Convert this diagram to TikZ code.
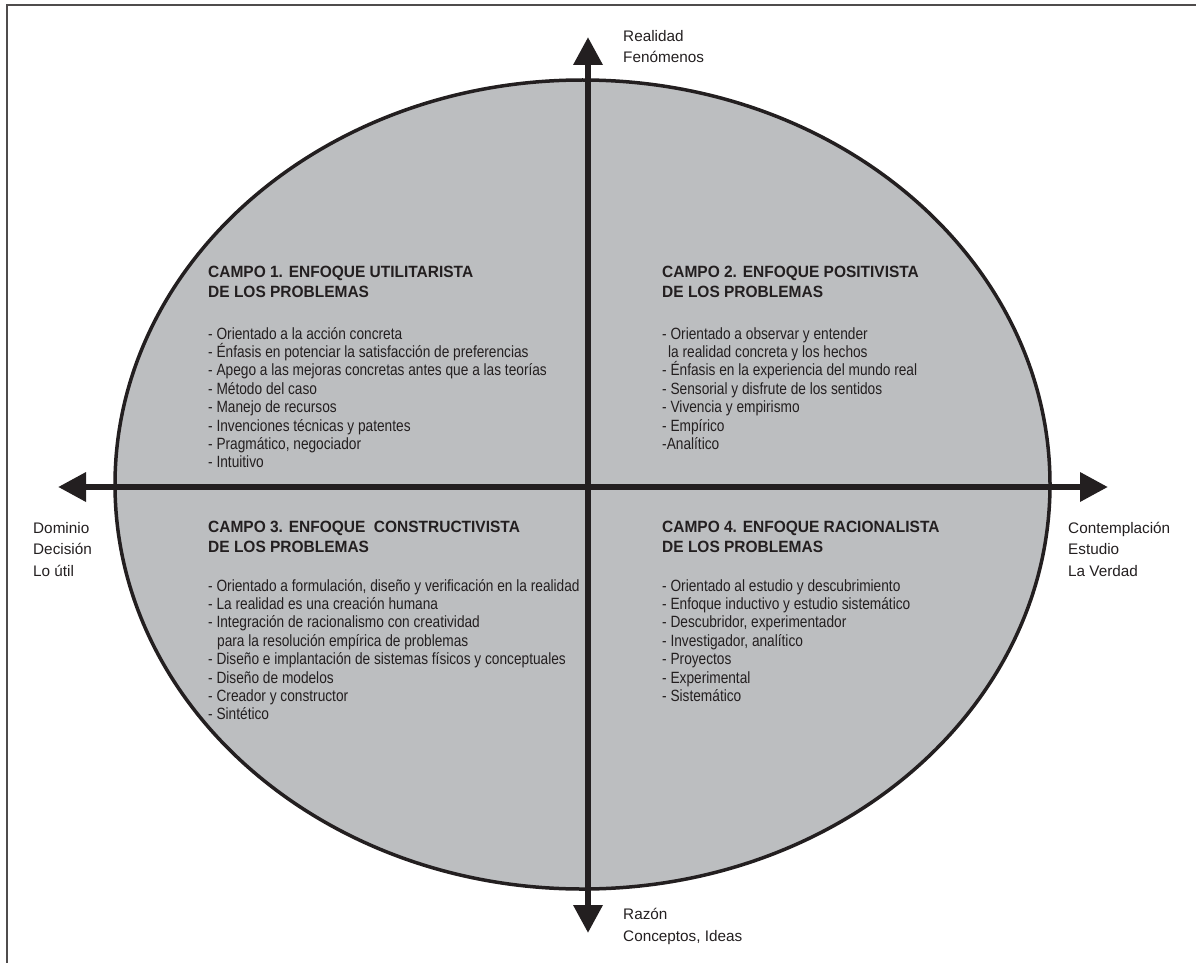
\documentclass[tikz,border=0pt]{standalone}
\usepackage{fontspec}
\setmainfont{Liberation Sans}[FakeStretch=0.84]
\newfontfamily\anchafont{Liberation Sans}
\newfontfamily\titfont{Liberation Sans}[FakeStretch=0.95]
\usetikzlibrary{arrows.meta}
\definecolor{ink}{HTML}{231F20}
\definecolor{fondo}{HTML}{BCBEC0}

\begin{document}
\begin{tikzpicture}[x=1pt,y=-1pt,
    eje/.style={ink,line width=6.5pt,{Triangle[length=28pt,width=28pt]}-{Triangle[length=28pt,width=28pt]}},
    titulo/.style={anchor=base west,inner sep=0pt,align=left,text=ink,font=\titfont\fontsize{16.3}{20}\selectfont\bfseries},
    lista/.style={anchor=base west,inner sep=0pt,align=left,text=ink,font=\fontsize{16.3}{18.4}\selectfont},
    polo/.style={anchor=base west,inner sep=0pt,align=left,text=ink,font=\anchafont\fontsize{15.3}{21.5}\selectfont}]
\useasboundingbox (0,0) rectangle (1196,963);
% marco
\draw[ink!80,line width=1.5pt] (7,963) -- (7,5) -- (1196,5);
% elipse
\draw[ink,line width=3.5pt,fill=fondo] (582.5,484.5) ellipse [x radius=467.5,y radius=404.5];
% ejes
\coordinate (arriba) at (588,37);
\coordinate (abajo) at (588,933);
\coordinate (izq) at (58,487);
\coordinate (der) at (1108,487);
\draw[eje] (abajo) -- (arriba);
\draw[eje] (izq) -- (der);
% polos (base = ultima linea)
\node[polo] (realidad) at (623,63) {Realidad\\Fenómenos};
\node[polo] (razon) at (623,941) {Razón\\Conceptos, Ideas};
\node[polo] (dominio) at (33,576) {Dominio\\Decisión\\Lo útil};
\node[polo] (contempl) at (1068,576) {Contemplación\\Estudio\\La Verdad};
% campo 1
\node[titulo] (c1tit) at (208,297) {CAMPO 1. ENFOQUE UTILITARISTA\\DE LOS PROBLEMAS};
\node[lista] (c1lista) at (208,467.8) {- Orientado a la acción concreta\\
  - Énfasis en potenciar la satisfacción de preferencias\\
  - Apego a las mejoras concretas antes que a las teorías\\
  - Método del caso\\
  - Manejo de recursos\\
  - Invenciones técnicas y patentes\\
  - Pragmático, negociador\\
  - Intuitivo};
% campo 2
\node[titulo] (c2tit) at (662,297) {CAMPO 2. ENFOQUE POSITIVISTA\\DE LOS PROBLEMAS};
\node[lista] (c2lista) at (662,449.4) {- Orientado a observar y entender\\
  \hspace*{6pt}la realidad concreta y los hechos\\
  - Énfasis en la experiencia del mundo real\\
  - Sensorial y disfrute de los sentidos\\
  - Vivencia y empirismo\\
  - Empírico\\
  -Analítico};
% campo 3
\node[titulo] (c3tit) at (208,552) {CAMPO 3. ENFOQUE\ \ CONSTRUCTIVISTA\\DE LOS PROBLEMAS};
\node[lista] (c3lista) at (208,719.8) {- Orientado a formulación, diseño y verificación en la realidad\\
  - La realidad es una creación humana\\
  - Integración de racionalismo con creatividad\\
  \hspace*{9pt}para la resolución empírica de problemas\\
  - Diseño e implantación de sistemas físicos y conceptuales\\
  - Diseño de modelos\\
  - Creador y constructor\\
  - Sintético};
% campo 4
\node[titulo] (c4tit) at (662,552) {CAMPO 4. ENFOQUE RACIONALISTA\\DE LOS PROBLEMAS};
\node[lista] (c4lista) at (662,701.4) {- Orientado al estudio y descubrimiento\\
  - Enfoque inductivo y estudio sistemático\\
  - Descubridor, experimentador\\
  - Investigador, analítico\\
  - Proyectos\\
  - Experimental\\
  - Sistemático};
\end{tikzpicture}
\end{document}
